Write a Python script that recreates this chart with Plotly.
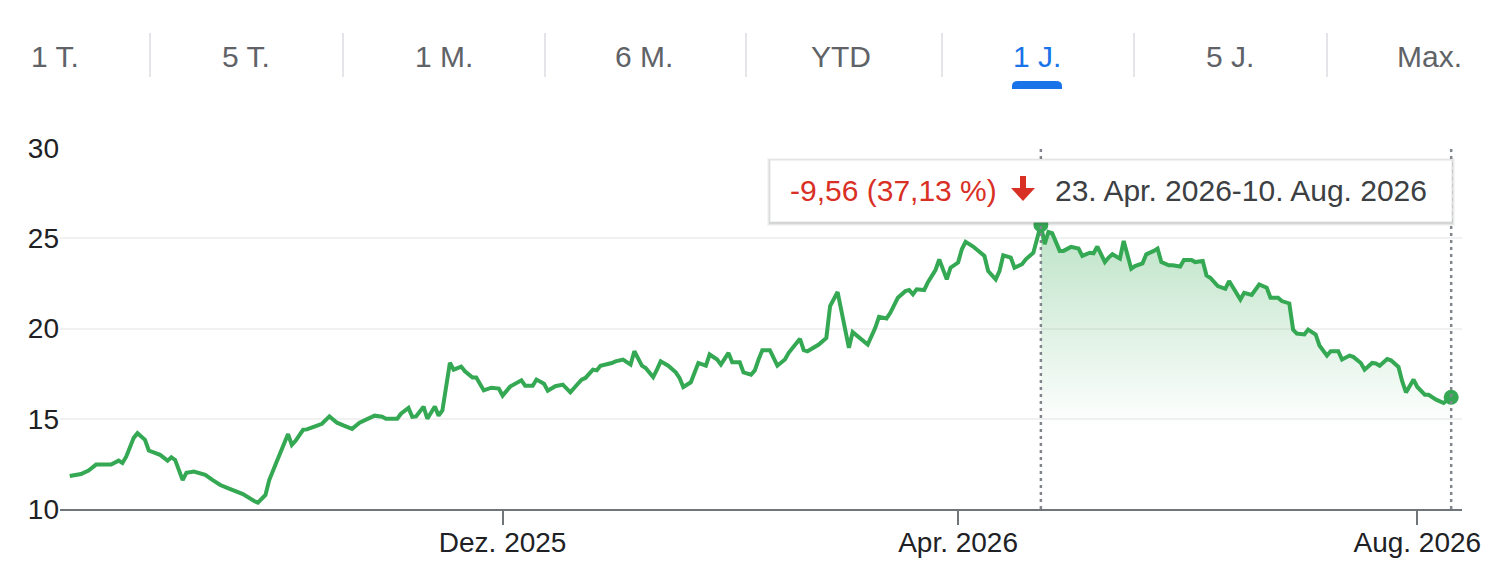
import plotly.graph_objects as go

# --- data --------------------------------------------------------------------
dates = [
    "2025-08-08", "2025-08-11", "2025-08-13", "2025-08-15", "2025-08-19", "2025-08-21",
    "2025-08-22", "2025-08-23", "2025-08-25", "2025-08-26", "2025-08-28", "2025-08-29",
    "2025-09-01", "2025-09-03", "2025-09-04", "2025-09-05", "2025-09-07", "2025-09-08",
    "2025-09-10", "2025-09-12", "2025-09-13", "2025-09-15", "2025-09-17", "2025-09-19",
    "2025-09-21", "2025-09-23", "2025-09-26", "2025-09-27", "2025-09-29", "2025-09-30",
    "2025-10-02", "2025-10-03", "2025-10-05", "2025-10-06", "2025-10-07", "2025-10-09",
    "2025-10-10", "2025-10-12", "2025-10-14", "2025-10-16", "2025-10-18", "2025-10-20",
    "2025-10-22", "2025-10-24", "2025-10-26", "2025-10-28", "2025-10-30", "2025-10-31",
    "2025-11-03", "2025-11-04", "2025-11-06", "2025-11-07", "2025-11-08", "2025-11-10",
    "2025-11-11", "2025-11-13", "2025-11-14", "2025-11-15", "2025-11-17", "2025-11-18",
    "2025-11-20", "2025-11-21", "2025-11-23", "2025-11-24", "2025-11-26", "2025-11-28",
    "2025-11-30", "2025-12-01", "2025-12-03", "2025-12-06", "2025-12-07", "2025-12-09",
    "2025-12-10", "2025-12-12", "2025-12-13", "2025-12-15", "2025-12-17", "2025-12-19",
    "2025-12-21", "2025-12-22", "2025-12-23", "2025-12-25", "2025-12-26", "2025-12-27",
    "2025-12-30", "2025-12-31", "2026-01-02", "2026-01-04", "2026-01-05", "2026-01-07",
    "2026-01-08", "2026-01-10", "2026-01-11", "2026-01-12", "2026-01-14", "2026-01-16",
    "2026-01-17", "2026-01-18", "2026-01-20", "2026-01-21", "2026-01-22", "2026-01-24",
    "2026-01-25", "2026-01-27", "2026-01-28", "2026-01-30", "2026-01-31", "2026-02-02",
    "2026-02-03", "2026-02-05", "2026-02-06", "2026-02-07", "2026-02-08", "2026-02-10",
    "2026-02-12", "2026-02-14", "2026-02-15", "2026-02-18", "2026-02-19", "2026-02-20",
    "2026-02-22", "2026-02-23", "2026-02-25", "2026-02-26", "2026-02-28", "2026-03-01",
    "2026-03-03", "2026-03-04", "2026-03-06", "2026-03-08", "2026-03-10", "2026-03-11",
    "2026-03-13", "2026-03-14", "2026-03-16", "2026-03-18", "2026-03-19", "2026-03-20",
    "2026-03-21", "2026-03-23", "2026-03-24", "2026-03-26", "2026-03-27", "2026-03-29",
    "2026-03-30", "2026-04-01", "2026-04-02", "2026-04-03", "2026-04-05", "2026-04-06",
    "2026-04-08", "2026-04-09", "2026-04-11", "2026-04-12", "2026-04-13", "2026-04-15",
    "2026-04-16", "2026-04-18", "2026-04-19", "2026-04-21", "2026-04-23", "2026-04-24",
    "2026-04-25", "2026-04-26", "2026-04-28", "2026-04-29", "2026-05-01", "2026-05-03",
    "2026-05-04", "2026-05-06", "2026-05-07", "2026-05-08", "2026-05-10", "2026-05-11",
    "2026-05-12", "2026-05-14", "2026-05-15", "2026-05-17", "2026-05-18", "2026-05-20",
    "2026-05-21", "2026-05-23", "2026-05-24", "2026-05-25", "2026-05-27", "2026-05-28",
    "2026-05-30", "2026-05-31", "2026-06-02", "2026-06-03", "2026-06-05", "2026-06-06",
    "2026-06-07", "2026-06-09", "2026-06-11", "2026-06-12", "2026-06-13", "2026-06-15",
    "2026-06-16", "2026-06-18", "2026-06-20", "2026-06-22", "2026-06-23", "2026-06-25",
    "2026-06-26", "2026-06-28", "2026-06-29", "2026-06-30", "2026-07-02", "2026-07-03",
    "2026-07-05", "2026-07-06", "2026-07-08", "2026-07-09", "2026-07-11", "2026-07-12",
    "2026-07-14", "2026-07-15", "2026-07-17", "2026-07-18", "2026-07-20", "2026-07-21",
    "2026-07-22", "2026-07-24", "2026-07-25", "2026-07-27", "2026-07-28", "2026-07-29",
    "2026-07-31", "2026-08-01", "2026-08-03", "2026-08-04", "2026-08-06", "2026-08-07",
    "2026-08-08", "2026-08-10",
]

prices = [
    11.83, 11.94, 12.13, 12.46, 12.46, 12.68,
    12.55, 12.90, 13.94, 14.20, 13.83, 13.24,
    13.00, 12.68, 12.87, 12.72, 11.60, 12.00,
    12.07, 11.94, 11.89, 11.60, 11.33, 11.16,
    11.02, 10.83, 10.44, 10.35, 10.78, 11.60,
    12.63, 13.18, 14.15, 13.55, 13.78, 14.39,
    14.41, 14.57, 14.72, 15.13, 14.78, 14.61,
    14.44, 14.78, 15.00, 15.17, 15.11, 15.00,
    15.00, 15.28, 15.60, 15.11, 15.13, 15.67,
    15.00, 15.68, 15.17, 15.46, 18.10, 17.72,
    17.89, 17.63, 17.28, 17.28, 16.57, 16.72,
    16.67, 16.28, 16.78, 17.13, 16.83, 16.83,
    17.17, 16.94, 16.55, 16.80, 16.89, 16.46,
    16.94, 17.17, 17.26, 17.72, 17.68, 17.94,
    18.09, 18.18, 18.28, 18.00, 18.74, 17.94,
    17.81, 17.31, 17.72, 18.18, 17.94, 17.57,
    17.26, 16.76, 17.02, 17.63, 18.09, 17.94,
    18.56, 18.28, 18.00, 18.65, 18.13, 18.13,
    17.57, 17.44, 17.68, 18.28, 18.80, 18.80,
    17.94, 18.28, 18.65, 19.43, 18.80, 18.74,
    19.02, 19.11, 19.48, 21.24, 22.02, 21.06,
    18.93, 19.80, 19.48, 19.11, 20.04, 20.65,
    20.56, 20.87, 21.70, 22.07, 22.13, 21.89,
    22.17, 22.13, 22.57, 23.24, 23.83, 22.72,
    23.37, 23.65, 24.39, 24.80, 24.54, 24.35,
    24.02, 23.18, 22.72, 23.18, 24.06, 23.93,
    23.37, 23.56, 23.83, 24.20, 25.75, 24.67,
    25.35, 25.28, 24.30, 24.30, 24.52, 24.43,
    24.02, 24.20, 24.17, 24.54, 23.68, 23.93,
    24.11, 23.87, 24.85, 23.31, 23.46, 23.61,
    24.11, 24.30, 24.43, 23.68, 23.50, 23.50,
    23.43, 23.80, 23.80, 23.68, 23.74, 22.94,
    22.81, 22.35, 22.20, 22.63, 22.26, 21.61,
    21.98, 21.86, 22.44, 22.26, 21.70, 21.70,
    21.52, 21.39, 19.94, 19.72, 19.67, 19.94,
    19.67, 19.06, 18.50, 18.74, 18.74, 18.28,
    18.50, 18.43, 18.09, 17.72, 18.09, 18.06,
    17.94, 18.31, 18.24, 17.87, 17.07, 16.46,
    17.17, 16.76, 16.33, 16.33, 16.06, 15.96,
    15.87, 16.19,
]

range_start = "2026-04-23"
range_end = "2026-08-10"
range_label = "23. Apr. 2026-10. Aug. 2026"

x_tickvals = ["2025-12-01", "2026-04-01", "2026-08-01"]
x_ticktext = ["Dez. 2025", "Apr. 2026", "Aug. 2026"]
y_tickvals = [10, 15, 20, 25, 30]

tabs = ["1 T.", "5 T.", "1 M.", "6 M.", "YTD", "1 J.", "5 J.", "Max."]
selected_tab = "1 J."

# --- styling -----------------------------------------------------------------
GREEN = "#34a853"
RED = "#d93025"
BLUE = "#1a73e8"
FONT = "Arial, Liberation Sans, Helvetica, sans-serif"

# the page body has an 8px margin, so the figure starts at page (8, 8)
OFF = 8
PAGE_W, PAGE_H = 1504, 580
W, H = PAGE_W - OFF, PAGE_H - OFF
# plot area in page pixels: x 60..1462, y 148..509
PL, PR, PT, PB = 60, 1462, 148, 509
L, R, T, B = PL - OFF, PAGE_W - PR, PT - OFF, PAGE_H - PB


def px(x):   # page pixel -> paper x
    return (x - PL) / (PR - PL)


def py(y):   # page pixel -> paper y
    return (PB - y) / (PB - PT)


i0 = dates.index(range_start)
i1 = dates.index(range_end)
sel_x = dates[i0:i1 + 1]
sel_y = prices[i0:i1 + 1]
change = prices[i1] - prices[i0]
pct = abs(change) / prices[i0] * 100
change_txt = "{:.2f} ({:.2f} %)".format(change, pct).replace(".", ",")

fig = go.Figure()

# gradient area under the selected range
fig.add_trace(go.Scatter(
    x=sel_x, y=sel_y, mode="none", fill="tozeroy",
    fillgradient=dict(type="vertical", start=14.5, stop=25.5,
                      colorscale=[[0, "rgba(52,168,83,0)"],
                                  [1, "rgba(52,168,83,0.32)"]]),
    hoverinfo="skip", showlegend=False,
))

fig.add_trace(go.Scatter(
    x=dates, y=prices, mode="lines",
    line=dict(color=GREEN, width=4),
    hoverinfo="skip", showlegend=False,
))

fig.add_trace(go.Scatter(
    x=[dates[i0], dates[i1]], y=[prices[i0], prices[i1]], mode="markers",
    marker=dict(color=GREEN, size=15),
    hoverinfo="skip", showlegend=False,
))

shapes = []
# dotted range markers
for d in (range_start, range_end):
    shapes.append(dict(type="line", xref="x", yref="paper", x0=d, x1=d, y0=0, y1=1,
                       line=dict(color="#80868b", width=2.5, dash="3px,4px"), layer="above"))

# tooltip box with a soft shadow
bx0, bx1, by0, by1 = 770, 1452, 160, 222
for off, alpha in ((4, 0.05), (3, 0.07), (2, 0.10), (1, 0.12)):
    shapes.append(dict(type="rect", xref="paper", yref="paper",
                       x0=px(bx0 - off + 1), x1=px(bx1 + off - 1),
                       y0=py(by1 + off), y1=py(by0 - off + 2),
                       line=dict(width=0), fillcolor="rgba(60,64,67,%s)" % alpha, layer="above"))
shapes.append(dict(type="rect", xref="paper", yref="paper",
                   x0=px(bx0), x1=px(bx1), y0=py(by1), y1=py(by0),
                   line=dict(color="#e3e3e3", width=1), fillcolor="white", layer="above"))

# down arrow icon
ax = 1023
shapes.append(dict(type="path", xref="paper", yref="paper", layer="above",
                   path="M {} {} L {} {} L {} {} L {} {} L {} {} L {} {} L {} {} Z".format(
                       px(ax - 3), py(176), px(ax + 3), py(176), px(ax + 3), py(188),
                       px(ax + 12), py(188), px(ax), py(201), px(ax - 12), py(188),
                       px(ax - 3), py(188)),
                   fillcolor=RED, line=dict(width=0)))

# range tabs
tab_centers = [55, 246, 444, 644, 841, 1037, 1230, 1429]
annotations = []
for name, cx in zip(tabs, tab_centers):
    annotations.append(dict(text=name, x=px(cx), y=py(57), xref="paper", yref="paper",
                            showarrow=False, xanchor="center", yanchor="middle",
                            font=dict(family=FONT, size=30,
                                      color=BLUE if name == selected_tab else "#5f6368")))
for sx in (150, 343, 545, 746, 942, 1134, 1327):
    shapes.append(dict(type="line", xref="paper", yref="paper",
                       x0=px(sx), x1=px(sx), y0=py(33), y1=py(77),
                       line=dict(color="#dadce0", width=1.5)))
cx = tab_centers[tabs.index(selected_tab)]
shapes.append(dict(type="path", xref="paper", yref="paper",
                   path="M {} {} L {} {} Q {} {} {} {} L {} {} Q {} {} {} {} L {} {} Z".format(
                       px(cx - 25), py(89), px(cx - 25), py(86), px(cx - 25), py(81),
                       px(cx - 19), py(81), px(cx + 19), py(81), px(cx + 25), py(81),
                       px(cx + 25), py(86), px(cx + 25), py(89)),
                   fillcolor=BLUE, line=dict(width=0)))

annotations.append(dict(text=change_txt, x=px(788), y=py(190), xref="paper", yref="paper",
                        showarrow=False, xanchor="left", yanchor="middle",
                        font=dict(family=FONT, size=30, color=RED)))
annotations.append(dict(text=range_label, x=px(1053), y=py(190), xref="paper", yref="paper",
                        showarrow=False, xanchor="left", yanchor="middle",
                        font=dict(family=FONT, size=30, color="#3c4043")))

fig.update_layout(
    width=W, height=H,
    margin=dict(l=L, r=R, t=T, b=B, autoexpand=False),
    paper_bgcolor="white", plot_bgcolor="white",
    shapes=shapes, annotations=annotations,
    hovermode=False,
    xaxis=dict(
        type="date", range=["2025-08-05 10:00", "2026-08-12 21:00"],
        tickvals=x_tickvals, ticktext=x_ticktext,
        showgrid=False, zeroline=False, automargin=False,
        showline=True, linecolor="#70757a", linewidth=2,
        ticks="outside", ticklen=14, tickwidth=2, tickcolor="#70757a",
        ticklabelstandoff=-7,
        tickfont=dict(family=FONT, size=28, color="#202124"),
    ),
    yaxis=dict(
        range=[10, 30], tickvals=y_tickvals, automargin=False,
        showgrid=True, gridcolor="#f1f1f1", gridwidth=1.5,
        zeroline=False, showline=False, ticks="",
        ticklabelstandoff=0,
        tickfont=dict(family=FONT, size=28, color="#202124"),
    ),
)

fig.write_html("out.html")
